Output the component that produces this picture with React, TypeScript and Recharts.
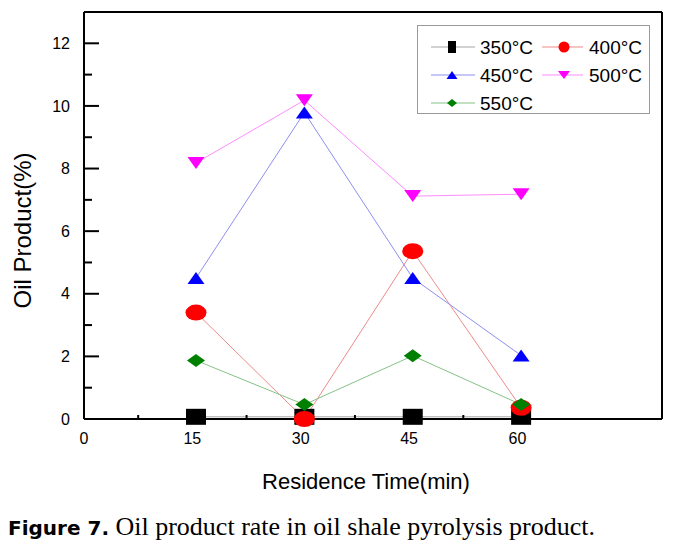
import React from "react";
import { LineChart, Line, XAxis, YAxis, Legend, Label, ReferenceLine } from "recharts";

const TIMES = [15.5, 30.5, 45.5, 60.5];

// oil product (%) per pyrolysis temperature
const T350 = [0.07, 0.07, 0.07, 0.07];
const T400 = [3.4, 0.0, 5.36, 0.36];
const T450 = [4.5, 9.79, 4.5, 2.03];
const T500 = [8.18, 10.18, 7.12, 7.18];
const T550 = [1.87, 0.46, 2.02, 0.46];

const X_TICKS = [0, 7.5, 15, 22.5, 30, 37.5, 45, 52.5, 60];
const X_LABELS = [0, 15, 30, 45, 60];
const Y_TICKS = [0, 1, 2, 3, 4, 5, 6, 7, 8, 9, 10, 11, 12];
const X_MAX = 80;
const Y_MAX = 13;

const SERIES = [
  { key: "s350", name: "350°C", values: T350, line: "#a6a6a6", fill: "#000000", shape: "square" },
  { key: "s400", name: "400°C", values: T400, line: "#f08a8a", fill: "#ff0000", shape: "circle" },
  { key: "s450", name: "450°C", values: T450, line: "#8e8ef2", fill: "#0000ff", shape: "up" },
  { key: "s500", name: "500°C", values: T500, line: "#ff8cff", fill: "#ff00ff", shape: "down" },
  { key: "s550", name: "550°C", values: T550, line: "#86c286", fill: "#008000", shape: "diamond" },
];

const rows = TIMES.map((t, i) => {
  const row: Record<string, number> = { t };
  SERIES.forEach((s) => (row[s.key] = s.values[i]));
  return row;
});

// marker size on the plot / in the legend
const PLOT_SIZE: Record<string, [number, number]> = {
  square: [20, 16],
  circle: [21, 16],
  up: [17, 12],
  down: [17, 12],
  diamond: [18, 13],
};
const LEGEND_SIZE: Record<string, [number, number]> = {
  square: [8, 12],
  circle: [11, 11],
  up: [11, 8],
  down: [12, 8],
  diamond: [10, 8],
};

const FONT = '"Liberation Sans", Arial, sans-serif';

function Marker({ kind, cx, cy, fill, w, h }: any) {
  if (cx == null || cy == null) return null;
  const hw = w / 2;
  const hh = h / 2;
  switch (kind) {
    case "square":
      return <rect x={cx - hw} y={cy - hh} width={w} height={h} fill={fill} />;
    case "circle":
      return <ellipse cx={cx} cy={cy} rx={hw} ry={hh} fill={fill} />;
    case "up":
      return <polygon points={`${cx},${cy - hh} ${cx - hw},${cy + hh} ${cx + hw},${cy + hh}`} fill={fill} />;
    case "down":
      return <polygon points={`${cx},${cy + hh} ${cx - hw},${cy - hh} ${cx + hw},${cy - hh}`} fill={fill} />;
    default:
      return <polygon points={`${cx},${cy - hh} ${cx + hw},${cy} ${cx},${cy + hh} ${cx - hw},${cy}`} fill={fill} />;
  }
}

const X_MARGIN = 14;
function XTick(props: any) {
  const { x, y, payload } = props;
  const axisY = y - X_MARGIN;
  const v = payload.value;
  if (X_LABELS.includes(v)) {
    return (
      <text x={x} y={y} dy="0.71em" textAnchor="middle" fontSize={16} fill="#000" fontFamily={FONT}>
        {v}
      </text>
    );
  }
  return <line x1={x} x2={x} y1={axisY} y2={axisY - 4} stroke="#000" strokeWidth={2} />;
}

const Y_MARGIN = 14;
function YTick(props: any) {
  const { x, y, payload } = props;
  const axisX = x + Y_MARGIN;
  const v = payload.value;
  const major = v % 2 === 0;
  return (
    <g>
      <line x1={axisX} x2={axisX + (major ? 15 : 8)} y1={y} y2={y} stroke="#000" strokeWidth={2} />
      {major && (
        <text x={x} y={y} dy="0.355em" textAnchor="end" fontSize={16} fill="#000" fontFamily={FONT}>
          {v}
        </text>
      )}
    </g>
  );
}

function LegendBox() {
  const cols = [
    { line: [14, 58], mark: 35, text: 63 },
    { line: [125, 166], mark: 147, text: 172 },
  ];
  const rowY = [22, 50, 78];
  return (
    <svg width={233} height={89} style={{ display: "block" }}>
      <rect x={0.5} y={0.5} width={232} height={88} fill="#fff" stroke="#9a9a9a" />
      {SERIES.map((s, i) => {
        const c = cols[i % 2];
        const y = rowY[Math.floor(i / 2)];
        const [w, h] = LEGEND_SIZE[s.shape];
        return (
          <g key={s.key}>
            <line x1={c.line[0]} x2={c.line[1]} y1={y} y2={y} stroke={s.line} strokeWidth={1.2} />
            <Marker kind={s.shape} cx={c.mark} cy={y} fill={s.fill} w={w} h={h} />
            <text x={c.text} y={y} dy="0.36em" fontSize={19} fontFamily={FONT} fill="#000">
              {s.name}
            </text>
          </g>
        );
      })}
    </svg>
  );
}

export default function App() {
  return (
    <div style={{ position: "absolute", left: 0, top: 0, width: 683, height: 551, background: "#fff" }}>
      <LineChart
        width={683}
        height={500}
        data={rows}
        margin={{ top: 12, right: 21, bottom: 41, left: 0 }}
        style={{ fontFamily: FONT }}
      >
        <XAxis
          dataKey="t"
          type="number"
          domain={[0, X_MAX]}
          ticks={X_TICKS}
          interval={0}
          tick={<XTick />}
          tickLine={false}
          tickSize={0}
          tickMargin={X_MARGIN}
          height={40}
          axisLine={{ stroke: "#000", strokeWidth: 2 }}
        >
          <Label
            value="Residence Time(min)"
            position="center"
            dx={-7}
            dy={42}
            style={{ fontSize: 22, fill: "#000", fontFamily: FONT }}
          />
        </XAxis>
        <YAxis
          type="number"
          domain={[0, Y_MAX]}
          ticks={Y_TICKS}
          interval={0}
          tick={<YTick />}
          tickLine={false}
          tickSize={0}
          tickMargin={Y_MARGIN}
          width={84}
          axisLine={{ stroke: "#000", strokeWidth: 2 }}
        >
          <Label
            value="Oil Product(%)"
            position="center"
            angle={-90}
            dx={-20}
            dy={15}
            style={{ fontSize: 24, fill: "#000", fontFamily: FONT, textAnchor: "middle" }}
          />
        </YAxis>
        {/* closing frame: top and right edges */}
        <ReferenceLine y={Y_MAX} stroke="#000" strokeWidth={2} />
        <ReferenceLine x={X_MAX} stroke="#000" strokeWidth={2} />
        {SERIES.map((s) => {
          const [w, h] = PLOT_SIZE[s.shape];
          return (
            <Line
              key={s.key}
              dataKey={s.key}
              name={s.name}
              type="linear"
              stroke={s.line}
              strokeWidth={1}
              isAnimationActive={false}
              dot={(p: any) => (
                <Marker key={`${s.key}-${p.index}`} kind={s.shape} cx={p.cx} cy={p.cy} fill={s.fill} w={w} h={h} />
              )}
              activeDot={false}
            />
          );
        })}
        <Legend
          layout="horizontal"
          verticalAlign="middle"
          align="center"
          wrapperStyle={{ left: 417, top: 25, width: 233, height: 89 }}
          content={() => <LegendBox />}
        />
      </LineChart>
      <div
        style={{
          position: "absolute",
          left: 8,
          top: 512,
          whiteSpace: "nowrap",
          lineHeight: "30px",
          color: "#000",
        }}
      >
        <span style={{ fontFamily: '"DejaVu Sans", sans-serif', fontWeight: 700, fontSize: 20 }}>Figure 7.</span>
        <span style={{ fontFamily: '"Liberation Serif", serif', fontSize: 26 }}> Oil product rate in oil shale pyrolysis product.</span>
      </div>
    </div>
  );
}
